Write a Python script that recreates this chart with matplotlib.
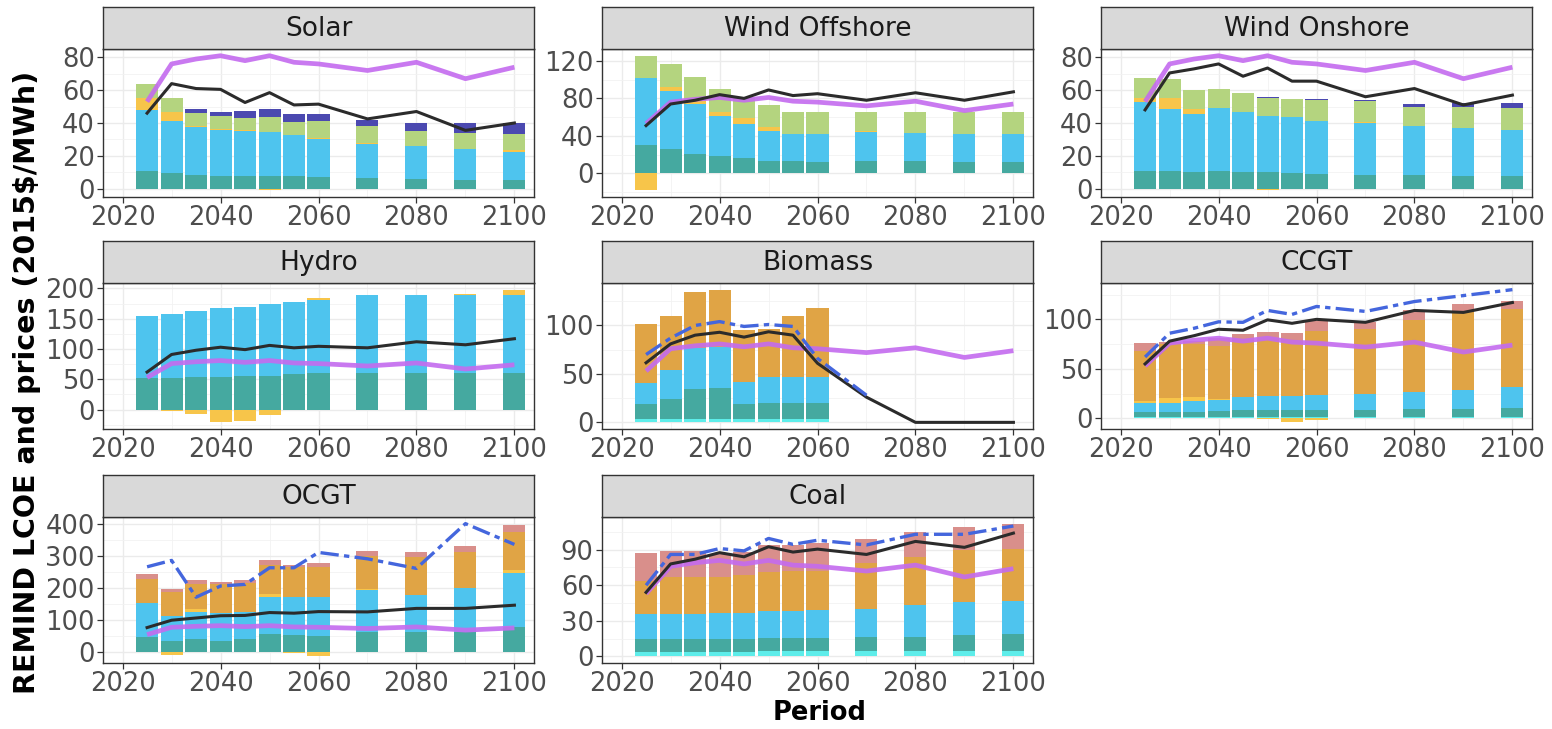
import matplotlib
matplotlib.use("Agg")
import matplotlib.pyplot as plt
import numpy as np
from matplotlib.ticker import FixedLocator, MultipleLocator

# ---- data ----
years = [2025, 2030, 2035, 2040, 2045, 2050, 2055, 2060, 2070, 2080, 2090, 2100]
price = [53, 76, 79, 81, 78, 81, 77, 76, 72, 77, 67, 74]

# Solar
solar_omf = [11, 9.5, 8.5, 8, 8, 7.5, 7.5, 7, 6.5, 6, 5.5, 5.5]
solar_inv = [37, 31.5, 29, 28, 27, 27, 25, 23, 21, 20, 18.5, 17]
solar_flex = [7, 6, 0.5, 0.5, 0.5, -1, 0, 1, 0.5, 0, 0, 1]
solar_storage = [8.5, 8.5, 8, 7.5, 7.5, 9, 8, 10, 10, 9, 10, 10]
solar_curt = [0, 0, 2.5, 2.5, 4.5, 5, 5, 4.5, 4, 5, 6, 6.5]
solar_lcoe = [46, 64, 61, 60.5, 52.5, 58.5, 51, 51.5, 42.5, 47, 35.5, 40]

# Wind Offshore
woff_omf = [30, 25.5, 21, 18.5, 16, 13.5, 13.5, 12, 13, 13, 12, 12]
woff_inv = [72, 62.5, 53, 42.5, 37, 31.5, 29, 29.5, 31, 30, 30, 29.5]
woff_flex = [-18, 4, 3, 4.5, 6.5, 5, 0, 0, 1.5, 0, 0, 0]
woff_storage = [23.5, 24.5, 25.5, 24.5, 20.5, 22.5, 23.5, 24.5, 20.5, 23, 24, 24.5]
woff_lcoe = [51, 74, 78, 84, 80, 89, 83, 85, 78, 86, 78, 87]

# Wind Onshore
won_omf = [11, 10.5, 10, 10.5, 10, 10, 9.5, 9, 8.5, 8.5, 8, 8]
won_inv = [41.5, 38, 35.5, 38.5, 36.5, 34.5, 34, 32, 31.5, 29.5, 29, 27.5]
won_flex = [2.5, 7, 3, 0, 0, -1, 0, 0, 0.5, 0, 0, 0.5]
won_storage = [12.5, 11.5, 11.5, 12, 12, 11, 11, 13, 13, 12, 13, 13]
won_curt = [0, 0, 0, 0, 0, 0.5, 0, 0.5, 0.5, 1.5, 2, 3]
won_lcoe = [48, 70.5, 73, 76, 68.5, 73.5, 65.5, 65.5, 56, 61, 51, 57]

# Hydro
hydro_omf = [52, 52, 54, 54.5, 55, 56, 58, 60, 60, 60, 61, 61]
hydro_inv = [103, 106.5, 109.5, 112.5, 115, 118, 120, 121, 129, 129, 128, 128]
hydro_flex = [0, -2, -8, -21, -19, -9, 0, 3.5, 0, 0, 2, 9]
hydro_lcoe = [62, 91, 98, 103, 99, 106, 102, 104.5, 102, 112, 107, 117]

# Biomass
bio_omv = [3.5, 3.5, 3.5, 3.5, 3.5, 3.5, 3.5, 3.5, 0, 0, 0, 0]
bio_omf = [15, 20.5, 30.5, 31.5, 15.5, 17, 17, 17, 0, 0, 0, 0]
bio_inv = [22.5, 30.5, 43, 43, 23, 26, 26, 26.5, 0, 0, 0, 0]
bio_fuel = [61, 55.5, 58, 59, 53, 49.5, 63, 71.5, 0, 0, 0, 0]
bio_lcoe = [61.5, 81, 90, 93, 88, 93.5, 90, 61, 26, 0, 0, 0]
bio_lcoe_co2 = [70, 87, 100, 104, 99, 101, 99, 66, 28, np.nan, np.nan, np.nan]

# CCGT
ccgt_omv = [1.5] * 12
ccgt_omf = [4.5, 4.5, 5, 5.5, 6.5, 6.5, 6.5, 6.5, 7, 7.5, 8, 9.5]
ccgt_inv = [10, 10, 11, 11.5, 13.5, 15, 15, 15.5, 16.5, 18, 19.5, 21]
ccgt_flex = [2, 5, 4, 1.5, 0, -1, -4, -2, 0, 0, 0, 0]
ccgt_fuel = [50, 54, 54, 53, 58, 57, 56, 64.5, 65, 72, 78, 78]
ccgt_co2 = [8, 2, 3, 8, 6, 7, 7.5, 10, 7.5, 10, 8, 9]
ccgt_lcoe = [55, 78, 83.5, 90, 89, 99.5, 96, 100, 97, 109, 107, 117]
ccgt_lcoe_co2 = [62, 86, 91, 97.5, 97, 109, 105, 113, 108, 118, 124, 130]

# OCGT
ocgt_omf = [47, 32, 40, 33, 38, 55, 52, 50, 62, 60, 60, 78]
ocgt_inv = [106, 78, 85, 87, 87, 117, 118, 120, 131, 118, 140, 169]
ocgt_flex = [0, -12, 8, 0, 0, 8, -5, -15, 4, 0, 0, 8]
ocgt_fuel = [75, 75, 77, 92, 90, 90, 95, 95, 103, 117, 110, 120]
ocgt_co2 = [14, 12, 15, 6, 10, 15, 7, 13, 13, 15, 20, 20]
ocgt_lcoe = [75, 98, 105, 112, 113, 122, 120, 125, 124, 135, 135, 145]
ocgt_lcoe_co2 = [265, 285, 170, 205, 210, 262, 262, 310, 290, 260, 400, 335]

# Coal
coal_omv = [4, 4, 4, 4, 4, 4.5, 4.5, 4.5, 4.5, 4.5, 4.5, 4.5]
coal_omf = [10.5, 10.5, 10.5, 10.5, 10.5, 11, 11, 11, 11.5, 12, 13.5, 14]
coal_inv = [21.5, 21.5, 21.5, 22, 22.5, 22.5, 23, 24, 24, 26.5, 27.5, 28.5]
coal_fuel = [28, 31, 31, 30.5, 32, 33, 33.5, 32.5, 39, 41, 44.5, 44]
coal_co2 = [23, 22, 22, 19, 19, 23, 22, 24, 20, 21, 19, 21]
coal_lcoe = [54, 78, 82, 87.5, 84, 92.5, 88, 90.5, 86, 97, 92, 104]
coal_lcoe_co2 = [60, 86, 86, 91, 89, 99.5, 94.5, 98, 94, 103, 103, 110]

# ---- styling ----
ORDER = ["omv", "omf", "inv", "flex", "fuel", "storage", "co2", "curt"]
COLORS = {
    "omv": "#5EEDEA",
    "omf": "#45A9A0",
    "inv": "#4EC4EE",
    "flex": "#F7C54A",
    "fuel": "#E0A445",
    "storage": "#B4D47F",
    "co2": "#D98F8B",
    "curt": "#4B49B0",
}

panels = [
    ("Solar", dict(omf=solar_omf, inv=solar_inv, flex=solar_flex,
                   storage=solar_storage, curt=solar_curt),
     solar_lcoe, None, [0, 20, 40, 60, 80]),
    ("Wind Offshore", dict(omf=woff_omf, inv=woff_inv, flex=woff_flex,
                           storage=woff_storage),
     woff_lcoe, None, [0, 40, 80, 120]),
    ("Wind Onshore", dict(omf=won_omf, inv=won_inv, flex=won_flex,
                          storage=won_storage, curt=won_curt),
     won_lcoe, None, [0, 20, 40, 60, 80]),
    ("Hydro", dict(omf=hydro_omf, inv=hydro_inv, flex=hydro_flex),
     hydro_lcoe, None, [0, 50, 100, 150, 200]),
    ("Biomass", dict(omv=bio_omv, omf=bio_omf, inv=bio_inv, fuel=bio_fuel),
     bio_lcoe, bio_lcoe_co2, [0, 50, 100]),
    ("CCGT", dict(omv=ccgt_omv, omf=ccgt_omf, inv=ccgt_inv, flex=ccgt_flex,
                  fuel=ccgt_fuel, co2=ccgt_co2),
     ccgt_lcoe, ccgt_lcoe_co2, [0, 50, 100]),
    ("OCGT", dict(omf=ocgt_omf, inv=ocgt_inv, flex=ocgt_flex,
                  fuel=ocgt_fuel, co2=ocgt_co2),
     ocgt_lcoe, ocgt_lcoe_co2, [0, 100, 200, 300, 400]),
    ("Coal", dict(omv=coal_omv, omf=coal_omf, inv=coal_inv,
                  fuel=coal_fuel, co2=coal_co2),
     coal_lcoe, coal_lcoe_co2, [0, 30, 60, 90]),
]

W, H = 1552, 729
fig = plt.figure(figsize=(W / 100, H / 100), dpi=100)

col_x = [103, 602, 1101]
pw = 431
rows = [(7, 49, 197), (241, 283, 429), (475, 517, 663)]


def frac(x, y0, y1):
    return [x / W, 1 - y1 / H, pw / W, (y1 - y0) / H]


yrs = np.array(years, dtype=float)
for i, (name, comps, lcoe, lcoe2, yticks) in enumerate(panels):
    r, c = divmod(i, 3)
    st, pt, pb = rows[r]
    ax = fig.add_axes(frac(col_x[c], pt, pb))
    sax = fig.add_axes(frac(col_x[c], st, pt))

    pos = np.zeros(len(years))
    neg = np.zeros(len(years))
    for key in ORDER:
        if key not in comps:
            continue
        v = np.array(comps[key], dtype=float)
        p = np.where(v > 0, v, 0)
        n = np.where(v < 0, v, 0)
        if p.any():
            ax.bar(yrs[p > 0], p[p > 0], bottom=pos[p > 0], width=4.5,
                   color=COLORS[key], linewidth=0, zorder=2)
        if n.any():
            ax.bar(yrs[n < 0], n[n < 0], bottom=neg[n < 0], width=4.5,
                   color=COLORS[key], linewidth=0, zorder=2)
        pos += p
        neg += n

    ax.plot(years, price, color="#C46BEF", lw=3.4, alpha=0.9, zorder=3,
            solid_capstyle="butt")
    ax.plot(years, lcoe, color="#2B2B2B", lw=2.2, zorder=4)
    vals = [pos.max(), neg.min(), max(price), min(price), np.nanmax(lcoe), 0]
    if lcoe2 is not None:
        ax.plot(years, lcoe2, color="#4466DD", lw=2.4, zorder=5,
                dashes=(5.5, 1.6, 1.6, 1.6))
        vals += [np.nanmax(lcoe2)]
    lo, hi = min(vals), max(vals)
    pad = 0.05 * (hi - lo)
    ax.set_ylim(lo - pad, hi + pad)
    ax.set_xlim(2016, 2104)

    ax.xaxis.set_major_locator(FixedLocator([2020, 2040, 2060, 2080, 2100]))
    ax.xaxis.set_minor_locator(MultipleLocator(10))
    ax.yaxis.set_major_locator(FixedLocator(yticks))
    ax.yaxis.set_minor_locator(MultipleLocator((yticks[1] - yticks[0]) / 2))
    ax.grid(which="major", color="#EBEBEB", lw=1.0, zorder=0)
    ax.grid(which="minor", color="#F2F2F2", lw=0.6, zorder=0)
    ax.set_axisbelow(True)
    ax.tick_params(which="major", length=4.5, width=0.9, color="#333333",
                   labelsize=18.5, labelcolor="#4D4D4D", pad=1.5)
    ax.tick_params(which="minor", length=0)
    for sp in ax.spines.values():
        sp.set_color("#333333")
        sp.set_linewidth(1.0)

    sax.set_facecolor("#D9D9D9")
    sax.set_xticks([])
    sax.set_yticks([])
    for sp in sax.spines.values():
        sp.set_color("#333333")
        sp.set_linewidth(1.0)
    sax.text(0.5, 0.47, name, ha="center", va="center", fontsize=19,
             color="#1A1A1A", transform=sax.transAxes)

fig.text(27 / W, 1 - 382 / H, "REMIND LCOE and prices (2015$/MWh)",
         rotation=90, ha="center", va="center", fontsize=20.5,
         fontweight="bold", color="black")
fig.text(820 / W, 1 - 713 / H, "Period", ha="center", va="center",
         fontsize=18.5, fontweight="bold", color="black")

fig.savefig("out.png", dpi=100, facecolor="white")
